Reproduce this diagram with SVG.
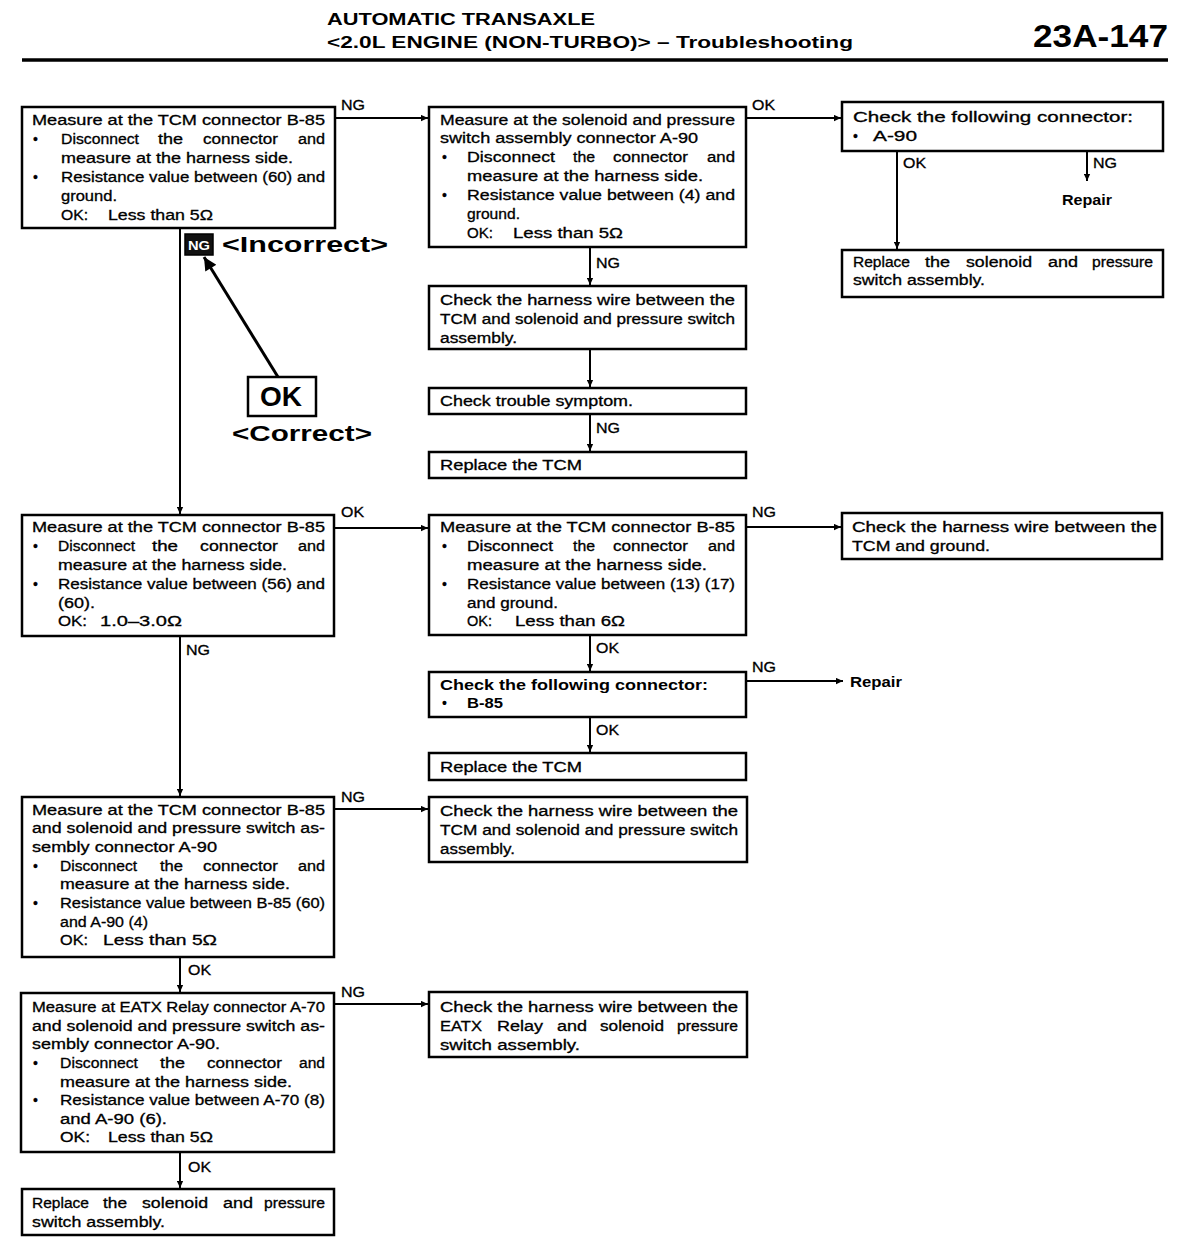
<svg xmlns="http://www.w3.org/2000/svg" width="1200" height="1254" viewBox="0 0 1200 1254">
<style>
text{font-family:"Liberation Sans",Arial,sans-serif;fill:#000}
.t{font-size:14px;stroke:#000;stroke-width:0.3}
.b{font-size:14px;font-weight:bold}
.l{font-size:14px;stroke:#000;stroke-width:0.3}
.box{fill:#fff;stroke:#000;stroke-width:2.5}
.c{fill:none;stroke:#000;stroke-width:2}
.h{font-weight:bold}
</style>
<defs>
<marker id="ah" viewBox="0 0 10 10" refX="10" refY="5" markerWidth="9" markerHeight="7" orient="auto" markerUnits="userSpaceOnUse"><path d="M0,0.5 L10,5 L0,9.5 z" fill="#000"/></marker>
<marker id="big" viewBox="0 0 10 10" refX="10" refY="5" markerWidth="26" markerHeight="13" orient="auto" markerUnits="userSpaceOnUse"><path d="M0,0 L10,5 L0,10 z" fill="#000"/></marker>
</defs>
<rect width="1200" height="1254" fill="#fff"/>

<g id="header">
<text x="327" y="25" class="h" font-size="16" textLength="268" lengthAdjust="spacingAndGlyphs">AUTOMATIC TRANSAXLE</text>
<text x="327" y="48" class="h" font-size="16" textLength="526" lengthAdjust="spacingAndGlyphs">&lt;2.0L ENGINE (NON-TURBO)&gt; – Troubleshooting</text>
<text x="1033" y="47" class="h" font-size="31" textLength="135" lengthAdjust="spacingAndGlyphs">23A-147</text>
<line x1="22" y1="60" x2="1168" y2="60" stroke="#000" stroke-width="3.5"/>
</g>

<g id="connectors">
<path class="c" d="M335,118 H428" marker-end="url(#ah)"/>
<path class="c" d="M746,118 H841" marker-end="url(#ah)"/>
<path class="c" d="M897,151 V249" marker-end="url(#ah)"/>
<path class="c" d="M1087,151 V181" marker-end="url(#ah)"/>
<path class="c" d="M590,247 V285" marker-end="url(#ah)"/>
<path class="c" d="M590,349 V387" marker-end="url(#ah)"/>
<path class="c" d="M590,414 V451" marker-end="url(#ah)"/>
<path class="c" d="M180,228 V514" marker-end="url(#ah)"/>
<path class="c" d="M334,528 H428" marker-end="url(#ah)"/>
<path class="c" d="M746,527 H841" marker-end="url(#ah)"/>
<path class="c" d="M590,635 V671" marker-end="url(#ah)"/>
<path class="c" d="M746,681 H843" marker-end="url(#ah)"/>
<path class="c" d="M590,717 V752" marker-end="url(#ah)"/>
<path class="c" d="M180,636 V796" marker-end="url(#ah)"/>
<path class="c" d="M334,809 H428" marker-end="url(#ah)"/>
<path class="c" d="M180,957 V992" marker-end="url(#ah)"/>
<path class="c" d="M334,1004 H428" marker-end="url(#ah)"/>
<path class="c" d="M180,1152 V1188" marker-end="url(#ah)"/>
<text class="l" x="341" y="110" textLength="24" lengthAdjust="spacingAndGlyphs">NG</text>
<text class="l" x="752" y="110" textLength="23" lengthAdjust="spacingAndGlyphs">OK</text>
<text class="l" x="903" y="168" textLength="23" lengthAdjust="spacingAndGlyphs">OK</text>
<text class="l" x="1093" y="168" textLength="24" lengthAdjust="spacingAndGlyphs">NG</text>
<text class="b" x="1062" y="205" textLength="50" lengthAdjust="spacingAndGlyphs">Repair</text>
<text class="l" x="596" y="268" textLength="24" lengthAdjust="spacingAndGlyphs">NG</text>
<text class="l" x="596" y="433" textLength="24" lengthAdjust="spacingAndGlyphs">NG</text>
<text class="l" x="341" y="517" textLength="23" lengthAdjust="spacingAndGlyphs">OK</text>
<text class="l" x="752" y="517" textLength="24" lengthAdjust="spacingAndGlyphs">NG</text>
<text class="l" x="596" y="653" textLength="23" lengthAdjust="spacingAndGlyphs">OK</text>
<text class="l" x="752" y="672" textLength="24" lengthAdjust="spacingAndGlyphs">NG</text>
<text class="b" x="850" y="687" textLength="52" lengthAdjust="spacingAndGlyphs">Repair</text>
<text class="l" x="596" y="735" textLength="23" lengthAdjust="spacingAndGlyphs">OK</text>
<text class="l" x="186" y="655" textLength="24" lengthAdjust="spacingAndGlyphs">NG</text>
<text class="l" x="341" y="802" textLength="24" lengthAdjust="spacingAndGlyphs">NG</text>
<text class="l" x="188" y="975" textLength="23" lengthAdjust="spacingAndGlyphs">OK</text>
<text class="l" x="341" y="997" textLength="24" lengthAdjust="spacingAndGlyphs">NG</text>
<text class="l" x="188" y="1172" textLength="23" lengthAdjust="spacingAndGlyphs">OK</text>
</g>

<g id="legend">
<rect x="185" y="234" width="28" height="21" fill="#111" stroke="#000" stroke-width="1.5"/>
<text x="188" y="250" font-size="13" font-weight="bold" style="fill:#fff" textLength="22" lengthAdjust="spacingAndGlyphs">NG</text>
<text x="222" y="252" class="h" font-size="22" textLength="166" lengthAdjust="spacingAndGlyphs">&lt;Incorrect&gt;</text>
<line x1="278" y1="377" x2="204" y2="257" stroke="#000" stroke-width="3" marker-end="url(#big)"/>
<rect x="248" y="377" width="68" height="39" fill="#fff" stroke="#000" stroke-width="2.5"/>
<text x="260" y="406" class="h" font-size="28" textLength="42" lengthAdjust="spacingAndGlyphs">OK</text>
<text x="232" y="441" class="h" font-size="22" textLength="140" lengthAdjust="spacingAndGlyphs">&lt;Correct&gt;</text>
</g>

<g id="n1">
<rect class="box" x="22" y="107" width="313" height="121"/>
<text class="t" x="32" y="125" textLength="293" lengthAdjust="spacingAndGlyphs">Measure at the TCM connector B-85</text>
<text class="t" x="33" y="144">•</text>
<text class="t" x="61" y="144" textLength="78" lengthAdjust="spacingAndGlyphs">Disconnect</text>
<text class="t" x="158" y="144" textLength="25" lengthAdjust="spacingAndGlyphs">the</text>
<text class="t" x="203" y="144" textLength="75" lengthAdjust="spacingAndGlyphs">connector</text>
<text class="t" x="298" y="144" textLength="27" lengthAdjust="spacingAndGlyphs">and</text>
<text class="t" x="61" y="163" textLength="232" lengthAdjust="spacingAndGlyphs">measure at the harness side.</text>
<text class="t" x="33" y="182">•</text>
<text class="t" x="61" y="182" textLength="264" lengthAdjust="spacingAndGlyphs">Resistance value between (60) and</text>
<text class="t" x="61" y="201" textLength="56" lengthAdjust="spacingAndGlyphs">ground.</text>
<text class="t" x="61" y="220" textLength="27" lengthAdjust="spacingAndGlyphs">OK:</text>
<text class="t" x="108" y="220" textLength="105" lengthAdjust="spacingAndGlyphs">Less than 5Ω</text>
</g>

<g id="n2">
<rect class="box" x="429" y="107" width="317" height="140"/>
<text class="t" x="440" y="125" textLength="295" lengthAdjust="spacingAndGlyphs">Measure at the solenoid and pressure</text>
<text class="t" x="440" y="143" textLength="258" lengthAdjust="spacingAndGlyphs">switch assembly connector A-90</text>
<text class="t" x="442" y="162">•</text>
<text class="t" x="467" y="162" textLength="88" lengthAdjust="spacingAndGlyphs">Disconnect</text>
<text class="t" x="573" y="162" textLength="22" lengthAdjust="spacingAndGlyphs">the</text>
<text class="t" x="613" y="162" textLength="75" lengthAdjust="spacingAndGlyphs">connector</text>
<text class="t" x="707" y="162" textLength="28" lengthAdjust="spacingAndGlyphs">and</text>
<text class="t" x="467" y="181" textLength="236" lengthAdjust="spacingAndGlyphs">measure at the harness side.</text>
<text class="t" x="442" y="200">•</text>
<text class="t" x="467" y="200" textLength="268" lengthAdjust="spacingAndGlyphs">Resistance value between (4) and</text>
<text class="t" x="467" y="219" textLength="53" lengthAdjust="spacingAndGlyphs">ground.</text>
<text class="t" x="467" y="238" textLength="26" lengthAdjust="spacingAndGlyphs">OK:</text>
<text class="t" x="513" y="238" textLength="110" lengthAdjust="spacingAndGlyphs">Less than 5Ω</text>
</g>

<g id="n3">
<rect class="box" x="842" y="102" width="321" height="49"/>
<text class="t" x="853" y="122" textLength="280" lengthAdjust="spacingAndGlyphs">Check the following connector:</text>
<text class="t" x="853" y="141">•</text>
<text class="t" x="873" y="141" textLength="44" lengthAdjust="spacingAndGlyphs">A-90</text>
</g>

<g id="n4">
<rect class="box" x="842" y="250" width="321" height="47"/>
<text class="t" x="853" y="267" textLength="57" lengthAdjust="spacingAndGlyphs">Replace</text>
<text class="t" x="925" y="267" textLength="25" lengthAdjust="spacingAndGlyphs">the</text>
<text class="t" x="966" y="267" textLength="66" lengthAdjust="spacingAndGlyphs">solenoid</text>
<text class="t" x="1048" y="267" textLength="30" lengthAdjust="spacingAndGlyphs">and</text>
<text class="t" x="1092" y="267" textLength="61" lengthAdjust="spacingAndGlyphs">pressure</text>
<text class="t" x="853" y="285" textLength="132" lengthAdjust="spacingAndGlyphs">switch assembly.</text>
</g>

<g id="n5">
<rect class="box" x="429" y="286" width="317" height="63"/>
<text class="t" x="440" y="305" textLength="295" lengthAdjust="spacingAndGlyphs">Check the harness wire between the</text>
<text class="t" x="440" y="324" textLength="295" lengthAdjust="spacingAndGlyphs">TCM and solenoid and pressure switch</text>
<text class="t" x="440" y="343" textLength="77" lengthAdjust="spacingAndGlyphs">assembly.</text>
</g>

<g id="n6">
<rect class="box" x="429" y="388" width="317" height="26"/>
<text class="t" x="440" y="406" textLength="193" lengthAdjust="spacingAndGlyphs">Check trouble symptom.</text>
</g>

<g id="n7">
<rect class="box" x="429" y="452" width="317" height="26"/>
<text class="t" x="440" y="470" textLength="142" lengthAdjust="spacingAndGlyphs">Replace the TCM</text>
</g>

<g id="n8">
<rect class="box" x="22" y="515" width="312" height="121"/>
<text class="t" x="32" y="532" textLength="293" lengthAdjust="spacingAndGlyphs">Measure at the TCM connector B-85</text>
<text class="t" x="33" y="551">•</text>
<text class="t" x="58" y="551" textLength="77" lengthAdjust="spacingAndGlyphs">Disconnect</text>
<text class="t" x="152" y="551" textLength="26" lengthAdjust="spacingAndGlyphs">the</text>
<text class="t" x="200" y="551" textLength="78" lengthAdjust="spacingAndGlyphs">connector</text>
<text class="t" x="298" y="551" textLength="27" lengthAdjust="spacingAndGlyphs">and</text>
<text class="t" x="58" y="570" textLength="229" lengthAdjust="spacingAndGlyphs">measure at the harness side.</text>
<text class="t" x="33" y="589">•</text>
<text class="t" x="58" y="589" textLength="267" lengthAdjust="spacingAndGlyphs">Resistance value between (56) and</text>
<text class="t" x="58" y="608" textLength="37" lengthAdjust="spacingAndGlyphs">(60).</text>
<text class="t" x="58" y="626" textLength="29" lengthAdjust="spacingAndGlyphs">OK:</text>
<text class="t" x="100" y="626" textLength="82" lengthAdjust="spacingAndGlyphs">1.0–3.0Ω</text>
</g>

<g id="n9">
<rect class="box" x="429" y="515" width="317" height="120"/>
<text class="t" x="440" y="532" textLength="295" lengthAdjust="spacingAndGlyphs">Measure at the TCM connector B-85</text>
<text class="t" x="442" y="551">•</text>
<text class="t" x="467" y="551" textLength="86" lengthAdjust="spacingAndGlyphs">Disconnect</text>
<text class="t" x="573" y="551" textLength="22" lengthAdjust="spacingAndGlyphs">the</text>
<text class="t" x="613" y="551" textLength="75" lengthAdjust="spacingAndGlyphs">connector</text>
<text class="t" x="708" y="551" textLength="27" lengthAdjust="spacingAndGlyphs">and</text>
<text class="t" x="467" y="570" textLength="240" lengthAdjust="spacingAndGlyphs">measure at the harness side.</text>
<text class="t" x="442" y="589">•</text>
<text class="t" x="467" y="589" textLength="268" lengthAdjust="spacingAndGlyphs">Resistance value between (13) (17)</text>
<text class="t" x="467" y="608" textLength="91" lengthAdjust="spacingAndGlyphs">and ground.</text>
<text class="t" x="467" y="626" textLength="25" lengthAdjust="spacingAndGlyphs">OK:</text>
<text class="t" x="515" y="626" textLength="110" lengthAdjust="spacingAndGlyphs">Less than 6Ω</text>
</g>

<g id="n10">
<rect class="box" x="842" y="513" width="320" height="46"/>
<text class="t" x="852" y="532" textLength="305" lengthAdjust="spacingAndGlyphs">Check the harness wire between the</text>
<text class="t" x="852" y="551" textLength="138" lengthAdjust="spacingAndGlyphs">TCM and ground.</text>
</g>

<g id="n11">
<rect class="box" x="429" y="672" width="317" height="45"/>
<text class="b" x="440" y="690" textLength="268" lengthAdjust="spacingAndGlyphs">Check the following connector:</text>
<text class="b" x="442" y="708">•</text>
<text class="b" x="467" y="708" textLength="36" lengthAdjust="spacingAndGlyphs">B-85</text>
</g>

<g id="n12">
<rect class="box" x="429" y="753" width="317" height="27"/>
<text class="t" x="440" y="772" textLength="142" lengthAdjust="spacingAndGlyphs">Replace the TCM</text>
</g>

<g id="n13">
<rect class="box" x="429" y="797" width="318" height="65"/>
<text class="t" x="440" y="816" textLength="298" lengthAdjust="spacingAndGlyphs">Check the harness wire between the</text>
<text class="t" x="440" y="835" textLength="298" lengthAdjust="spacingAndGlyphs">TCM and solenoid and pressure switch</text>
<text class="t" x="440" y="854" textLength="75" lengthAdjust="spacingAndGlyphs">assembly.</text>
</g>

<g id="n14">
<rect class="box" x="22" y="797" width="312" height="160"/>
<text class="t" x="32" y="815" textLength="293" lengthAdjust="spacingAndGlyphs">Measure at the TCM connector B-85</text>
<text class="t" x="32" y="833" textLength="293" lengthAdjust="spacingAndGlyphs">and solenoid and pressure switch as-</text>
<text class="t" x="32" y="852" textLength="185" lengthAdjust="spacingAndGlyphs">sembly connector A-90</text>
<text class="t" x="33" y="871">•</text>
<text class="t" x="60" y="871" textLength="77" lengthAdjust="spacingAndGlyphs">Disconnect</text>
<text class="t" x="160" y="871" textLength="23" lengthAdjust="spacingAndGlyphs">the</text>
<text class="t" x="203" y="871" textLength="75" lengthAdjust="spacingAndGlyphs">connector</text>
<text class="t" x="298" y="871" textLength="27" lengthAdjust="spacingAndGlyphs">and</text>
<text class="t" x="60" y="889" textLength="230" lengthAdjust="spacingAndGlyphs">measure at the harness side.</text>
<text class="t" x="33" y="908">•</text>
<text class="t" x="60" y="908" textLength="265" lengthAdjust="spacingAndGlyphs">Resistance value between B-85 (60)</text>
<text class="t" x="60" y="927" textLength="88" lengthAdjust="spacingAndGlyphs">and A-90 (4)</text>
<text class="t" x="60" y="945" textLength="28" lengthAdjust="spacingAndGlyphs">OK:</text>
<text class="t" x="103" y="945" textLength="114" lengthAdjust="spacingAndGlyphs">Less than 5Ω</text>
</g>

<g id="n15">
<rect class="box" x="21" y="993" width="313" height="159"/>
<text class="t" x="32" y="1012" textLength="293" lengthAdjust="spacingAndGlyphs">Measure at EATX Relay connector A-70</text>
<text class="t" x="32" y="1031" textLength="293" lengthAdjust="spacingAndGlyphs">and solenoid and pressure switch as-</text>
<text class="t" x="32" y="1049" textLength="188" lengthAdjust="spacingAndGlyphs">sembly connector A-90.</text>
<text class="t" x="33" y="1068">•</text>
<text class="t" x="60" y="1068" textLength="78" lengthAdjust="spacingAndGlyphs">Disconnect</text>
<text class="t" x="160" y="1068" textLength="25" lengthAdjust="spacingAndGlyphs">the</text>
<text class="t" x="207" y="1068" textLength="75" lengthAdjust="spacingAndGlyphs">connector</text>
<text class="t" x="299" y="1068" textLength="26" lengthAdjust="spacingAndGlyphs">and</text>
<text class="t" x="60" y="1087" textLength="232" lengthAdjust="spacingAndGlyphs">measure at the harness side.</text>
<text class="t" x="33" y="1105">•</text>
<text class="t" x="60" y="1105" textLength="265" lengthAdjust="spacingAndGlyphs">Resistance value between A-70 (8)</text>
<text class="t" x="60" y="1124" textLength="107" lengthAdjust="spacingAndGlyphs">and A-90 (6).</text>
<text class="t" x="60" y="1142" textLength="30" lengthAdjust="spacingAndGlyphs">OK:</text>
<text class="t" x="108" y="1142" textLength="105" lengthAdjust="spacingAndGlyphs">Less than 5Ω</text>
</g>

<g id="n16">
<rect class="box" x="429" y="992" width="318" height="65"/>
<text class="t" x="440" y="1012" textLength="298" lengthAdjust="spacingAndGlyphs">Check the harness wire between the</text>
<text class="t" x="440" y="1031" textLength="42" lengthAdjust="spacingAndGlyphs">EATX</text>
<text class="t" x="497" y="1031" textLength="46" lengthAdjust="spacingAndGlyphs">Relay</text>
<text class="t" x="557" y="1031" textLength="30" lengthAdjust="spacingAndGlyphs">and</text>
<text class="t" x="600" y="1031" textLength="64" lengthAdjust="spacingAndGlyphs">solenoid</text>
<text class="t" x="677" y="1031" textLength="61" lengthAdjust="spacingAndGlyphs">pressure</text>
<text class="t" x="440" y="1050" textLength="140" lengthAdjust="spacingAndGlyphs">switch assembly.</text>
</g>

<g id="n17">
<rect class="box" x="22" y="1189" width="312" height="46"/>
<text class="t" x="32" y="1208" textLength="57" lengthAdjust="spacingAndGlyphs">Replace</text>
<text class="t" x="103" y="1208" textLength="24" lengthAdjust="spacingAndGlyphs">the</text>
<text class="t" x="142" y="1208" textLength="66" lengthAdjust="spacingAndGlyphs">solenoid</text>
<text class="t" x="223" y="1208" textLength="30" lengthAdjust="spacingAndGlyphs">and</text>
<text class="t" x="264" y="1208" textLength="61" lengthAdjust="spacingAndGlyphs">pressure</text>
<text class="t" x="32" y="1227" textLength="133" lengthAdjust="spacingAndGlyphs">switch assembly.</text>
</g>
</svg>
